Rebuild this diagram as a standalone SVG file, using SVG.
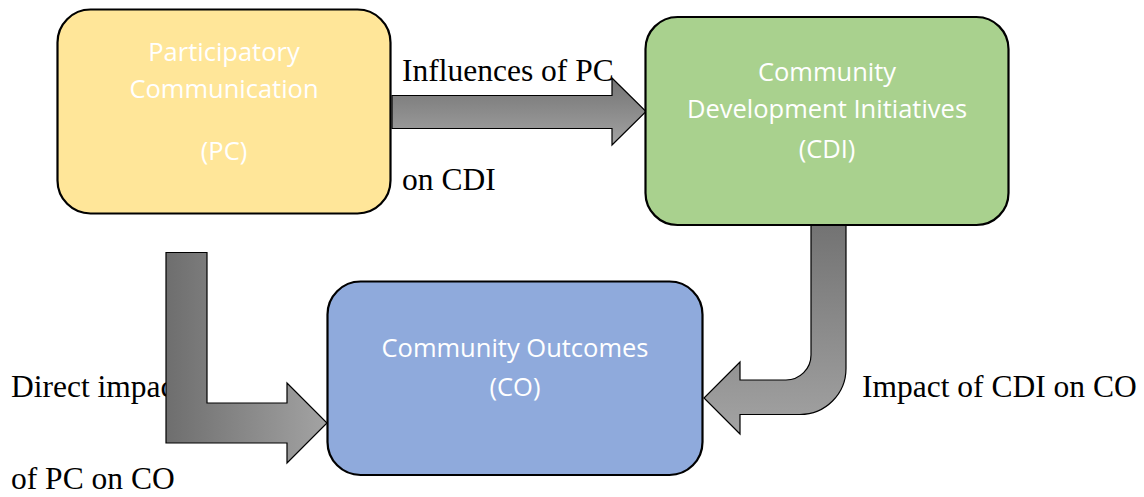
<svg xmlns="http://www.w3.org/2000/svg" width="1144" height="497" viewBox="0 0 1144 497">
<style>
.box{stroke:#000;stroke-width:2.2}
.nt{font-family:"Open Sans","Liberation Sans",sans-serif;font-size:25.5px;fill:#fff;text-anchor:middle}
.lbl{font-family:"Liberation Serif","Times New Roman",serif;font-size:31.5px;fill:#000}
.arr{stroke:#000;stroke-width:1.2;stroke-linejoin:miter}
</style>
<defs>
<linearGradient id="gv" x1="0" y1="0" x2="0" y2="1">
<stop offset="0" stop-color="#737373"/>
<stop offset="1" stop-color="#a3a3a3"/>
</linearGradient>
<linearGradient id="gh" x1="0" y1="0" x2="1" y2="0">
<stop offset="0" stop-color="#6e6e6e"/>
<stop offset="1" stop-color="#a3a3a3"/>
</linearGradient>
</defs>
<rect width="1144" height="497" fill="#fff"/>
<g id="labels">
<text class="lbl" x="402" y="81">Influences of PC</text>
<text class="lbl" x="402" y="190">on CDI</text>
<text class="lbl" x="11" y="397">Direct impact</text>
<text class="lbl" x="11" y="489">of PC on CO</text>
<text class="lbl" x="862" y="397">Impact of CDI on CO</text>
</g>
<g id="connectors">
<path id="pc-cdi" class="arr" fill="url(#gv)" d="M392,95.5 H612 V78 L646,111.5 L612,145 V128.5 H392 Z"/>
<path id="pc-co" class="arr" fill="url(#gh)" d="M166,252.5 H207 V403 H287 V383 L327,423 L287,463 V443 H166 Z"/>
<path id="cdi-co" class="arr" fill="url(#gv)" d="M811,225 V355 A25,25 0 0 1 786,380 H740 V362 L704,398 L740,434 V414.5 H800 A46,46 0 0 0 846,368.5 V225 Z"/>
</g>
<g id="node-pc">
<rect class="box" x="57.5" y="9.5" width="333" height="204" rx="33" fill="#FFE699"/>
<text class="nt" x="224" y="61">Participatory</text>
<text class="nt" x="224" y="98">Communication</text>
<text class="nt" x="224" y="160">(PC)</text>
</g>
<g id="node-cdi">
<rect class="box" x="645.5" y="17" width="363" height="208" rx="32" fill="#A9D18E"/>
<text class="nt" x="827" y="81">Community</text>
<text class="nt" x="827" y="118">Development Initiatives</text>
<text class="nt" x="827" y="158">(CDI)</text>
</g>
<g id="node-co">
<rect class="box" x="327.5" y="281.5" width="375" height="193.5" rx="33" fill="#8FAADC"/>
<text class="nt" x="515" y="357">Community Outcomes</text>
<text class="nt" x="515" y="396">(CO)</text>
</g>
</svg>
